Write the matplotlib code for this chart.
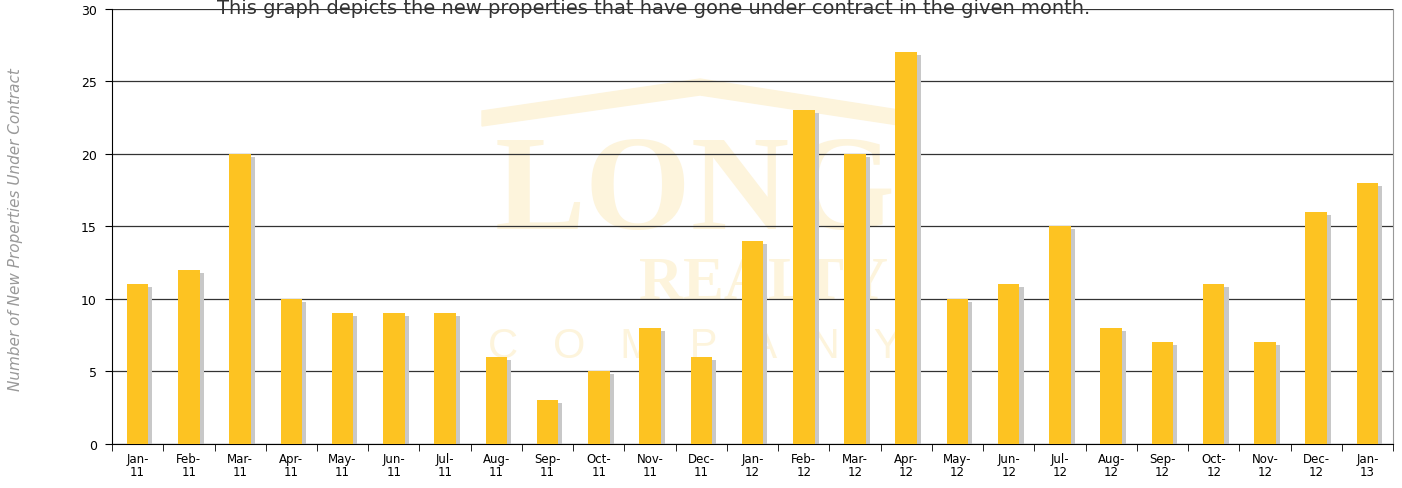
import numpy as np
import matplotlib.pyplot as plt
from matplotlib.patches import Polygon

months = ["Jan-\n11", "Feb-\n11", "Mar-\n11", "Apr-\n11", "May-\n11", "Jun-\n11", "Jul-\n11",
          "Aug-\n11", "Sep-\n11", "Oct-\n11", "Nov-\n11", "Dec-\n11", "Jan-\n12", "Feb-\n12",
          "Mar-\n12", "Apr-\n12", "May-\n12", "Jun-\n12", "Jul-\n12", "Aug-\n12", "Sep-\n12",
          "Oct-\n12", "Nov-\n12", "Dec-\n12", "Jan-\n13"]
counts = [11, 12, 20, 10, 9, 9, 9, 6, 3, 5, 8, 6, 14, 23, 20, 27, 10, 11, 15, 8, 7, 11, 7, 16, 18]
yticks = [0, 5, 10, 15, 20, 25, 30]

fig = plt.figure(figsize=(14.02, 4.89), dpi=100)
ax = fig.add_axes([0.0799, 0.0900, 0.9137, 0.8896])
tf = fig.transFigure

# watermark logo (light cream), kept behind the grid and bars
wm = "#FDF4DC"
roof = Polygon([(482/1402, 1-112/489), (700/1402, 1-80/489), (905/1402, 1-112/489),
                (905/1402, 1-127/489), (700/1402, 1-96/489), (482/1402, 1-127/489)],
               closed=True, transform=tf, color=wm, zorder=0.2, clip_on=False)
ax.add_patch(roof)
ax.text(695/1402, 1-197/489, "LONG", ha="center", va="center", fontsize=98,
        family="Liberation Serif", weight="bold", color=wm, zorder=0.2, transform=tf)
ax.text(763/1402, 1-284/489, "REALTY", ha="center", va="center", fontsize=44,
        family="Liberation Serif", weight="bold", color=wm, zorder=0.2, transform=tf)
ax.text(695/1402, 1-347/489, "C   O   M   P   A   N   Y", ha="center", va="center",
        fontsize=30, family="Liberation Sans", color=wm, zorder=0.2, transform=tf)

x = np.arange(len(counts))
ax.bar(x + 0.08, np.array(counts) - 0.18, width=0.42, color="#C8C8C8", zorder=2)
ax.bar(x, counts, width=0.42, color="#FDC322", zorder=3)

ax.set_xlim(-0.5, len(counts) - 0.5)
ax.set_ylim(0, 30)
ax.set_yticks(yticks)
ax.set_yticklabels([str(v) for v in yticks], fontsize=9)
ax.yaxis.grid(True, color="#333333", linewidth=0.9, zorder=1)
ax.set_axisbelow(True)

ax.set_xticks(x)
ax.set_xticklabels(months, fontsize=8.5, linespacing=1.0)
ax.set_xticks(np.arange(-0.5, len(counts)), minor=True)
ax.tick_params(axis="x", which="major", length=0, pad=6)
ax.tick_params(axis="x", which="minor", length=5, color="black")
ax.tick_params(axis="y", length=5, pad=6)

ax.spines["top"].set_visible(False)
ax.spines["right"].set_color("#999999")
ax.spines["left"].set_color("black")
ax.spines["bottom"].set_color("black")

fig.text(0.011, 0.53, "Number of New Properties Under Contract", rotation=90,
         ha="center", va="center", fontsize=11, style="italic", color="#999999")
fig.text(0.466, 0.982, "This graph depicts the new properties that have gone under contract in the given month.",
         ha="center", va="center", fontsize=14, color="#333333")

fig.savefig("out.png", dpi=100)
